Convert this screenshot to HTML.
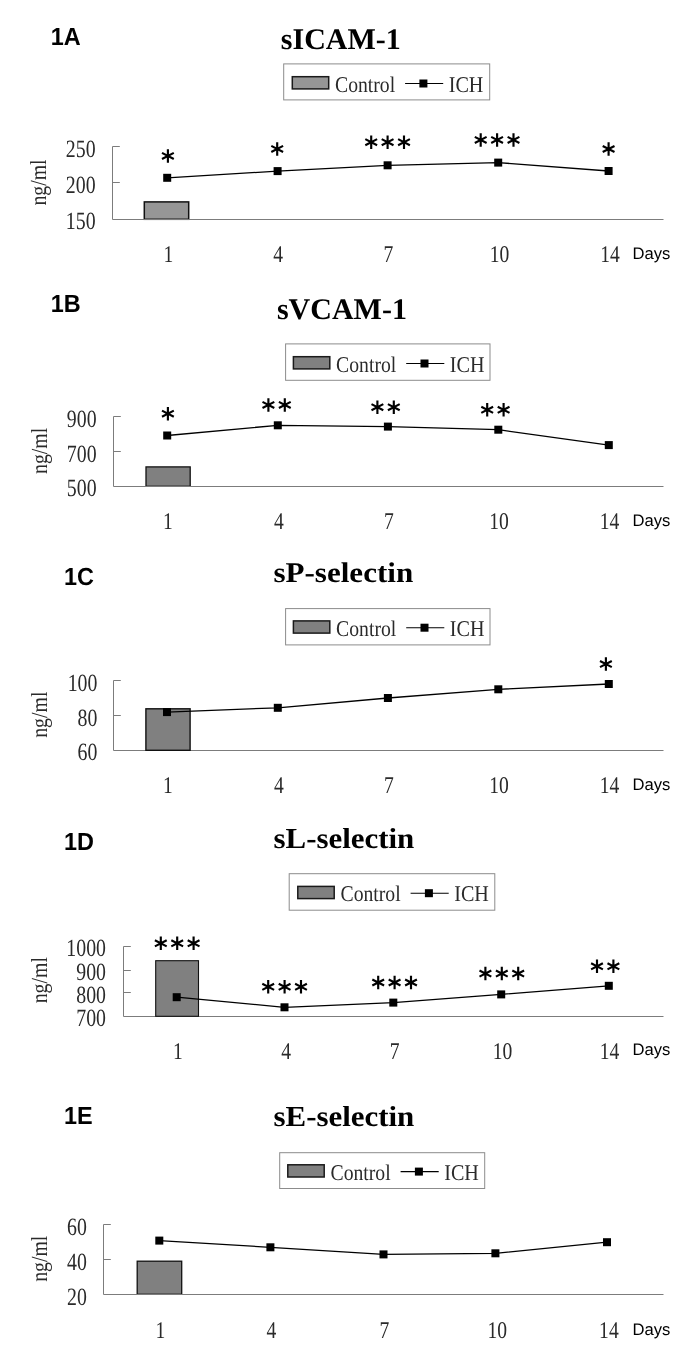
<!DOCTYPE html>
<html><head><meta charset="utf-8"><title>Figure 1</title>
<style>
html,body{margin:0;padding:0;background:#fff;}
body{width:685px;height:1370px;overflow:hidden;font-family:"Liberation Sans",sans-serif;}
svg{display:block;text-rendering:geometricPrecision;will-change:transform;}
</style></head><body>
<svg width="685" height="1370" viewBox="0 0 685 1370">
<defs>
<g id="st" stroke="#000" stroke-width="2.15" stroke-linecap="butt" fill="none">
<path d="M0 -6.75V6.75M-5.9 -3.05L5.9 3.05M-5.9 3.05L5.9 -3.05"/>
</g>
</defs>
<rect width="685" height="1370" fill="#fff"/>
<text transform="translate(50.7,44.9) scale(0.945,1)" font-family='"Liberation Sans", sans-serif' font-size="24.8" font-weight="bold" text-anchor="start" fill="#000" >1A</text>
<text transform="translate(340.8,49.3) scale(1.0,1)" font-family='"Liberation Serif", serif' font-size="30" font-weight="bold" text-anchor="middle" fill="#000" >sICAM-1</text>
<rect x="283.7" y="63.9" width="206.0" height="36" fill="#fff" stroke="#8c8c8c" stroke-width="1"/>
<rect x="292.3" y="76.7" width="36.4" height="12.2" fill="#969696" stroke="#1a1a1a" stroke-width="1.5"/>
<text transform="translate(335.0,91.5) scale(0.875,1)" font-family='"Liberation Serif", serif' font-size="22.5" font-weight="normal" text-anchor="start" fill="#2a2a2a" >Control</text>
<line x1="405.1" y1="83.5" x2="443.2" y2="83.5" stroke="#000" stroke-width="1.15"/>
<rect x="419.4" y="79.5" width="8" height="8" fill="#000"/>
<text transform="translate(448.7,91.5) scale(0.895,1)" font-family='"Liberation Serif", serif' font-size="22.5" font-weight="normal" text-anchor="start" fill="#2a2a2a" >ICH</text>
<rect x="144.3" y="201.9" width="44.4" height="17.4" fill="#969696" stroke="#111" stroke-width="1.5"/>
<path d="M112.5 146.5V219.5H663.5" fill="none" stroke="#7c7c7c" stroke-width="1"/>
<line x1="112.5" y1="146.5" x2="119.8" y2="146.5" stroke="#7c7c7c" stroke-width="1"/>
<line x1="112.5" y1="182.5" x2="119.8" y2="182.5" stroke="#7c7c7c" stroke-width="1"/>
<text transform="translate(95.6,156.8) scale(0.8,1)" font-family='"Liberation Serif", serif' font-size="24.8" font-weight="normal" text-anchor="end" fill="#2a2a2a" >250</text>
<text transform="translate(95.6,193.0) scale(0.8,1)" font-family='"Liberation Serif", serif' font-size="24.8" font-weight="normal" text-anchor="end" fill="#2a2a2a" >200</text>
<text transform="translate(95.6,229.2) scale(0.8,1)" font-family='"Liberation Serif", serif' font-size="24.8" font-weight="normal" text-anchor="end" fill="#2a2a2a" >150</text>
<text transform="translate(46.0,182.5) rotate(-90) scale(0.86,1)" font-family='"Liberation Serif", serif' font-size="23" text-anchor="middle" fill="#2a2a2a">ng/ml</text>
<polyline points="167.2,177.8 277.6,171.1 387.6,165.3 498.2,162.6 608.6,171.0" fill="none" stroke="#000" stroke-width="1.3"/>
<rect x="163.2" y="173.8" width="8" height="8" fill="#000"/>
<rect x="273.6" y="167.1" width="8" height="8" fill="#000"/>
<rect x="383.6" y="161.3" width="8" height="8" fill="#000"/>
<rect x="494.2" y="158.6" width="8" height="8" fill="#000"/>
<rect x="604.6" y="167.0" width="8" height="8" fill="#000"/>
<use href="#st" x="167.9" y="155.9"/>
<use href="#st" x="277.2" y="148.9"/>
<use href="#st" x="371.2" y="142.2"/><use href="#st" x="387.6" y="142.2"/><use href="#st" x="404.0" y="142.2"/>
<use href="#st" x="480.7" y="139.9"/><use href="#st" x="497.1" y="139.9"/><use href="#st" x="513.5" y="139.9"/>
<use href="#st" x="608.6" y="149.0"/>
<text transform="translate(168.5,262.0) scale(0.815,1)" font-family='"Liberation Serif", serif' font-size="24.0" font-weight="normal" text-anchor="middle" fill="#2a2a2a" >1</text>
<text transform="translate(278.2,262.0) scale(0.815,1)" font-family='"Liberation Serif", serif' font-size="24.0" font-weight="normal" text-anchor="middle" fill="#2a2a2a" >4</text>
<text transform="translate(388.3,262.0) scale(0.815,1)" font-family='"Liberation Serif", serif' font-size="24.0" font-weight="normal" text-anchor="middle" fill="#2a2a2a" >7</text>
<text transform="translate(499.5,262.0) scale(0.815,1)" font-family='"Liberation Serif", serif' font-size="24.0" font-weight="normal" text-anchor="middle" fill="#2a2a2a" >10</text>
<text transform="translate(610.0,262.0) scale(0.815,1)" font-family='"Liberation Serif", serif' font-size="24.0" font-weight="normal" text-anchor="middle" fill="#2a2a2a" >14</text>
<text transform="translate(632.6,258.7) scale(1.0,1)" font-family='"Liberation Sans", sans-serif' font-size="16.6" font-weight="normal" text-anchor="start" fill="#000" >Days</text>
<text transform="translate(50.7,311.9) scale(0.945,1)" font-family='"Liberation Sans", sans-serif' font-size="24.8" font-weight="bold" text-anchor="start" fill="#000" >1B</text>
<text transform="translate(341.9,318.5) scale(1.0,1)" font-family='"Liberation Serif", serif' font-size="30" font-weight="bold" text-anchor="middle" fill="#000" >sVCAM-1</text>
<rect x="285.6" y="343.9" width="204.4" height="36.4" fill="#fff" stroke="#8c8c8c" stroke-width="1"/>
<rect x="293.4" y="356.7" width="36.4" height="12.2" fill="#808080" stroke="#1a1a1a" stroke-width="1.5"/>
<text transform="translate(336.1,371.5) scale(0.875,1)" font-family='"Liberation Serif", serif' font-size="22.5" font-weight="normal" text-anchor="start" fill="#2a2a2a" >Control</text>
<line x1="406.2" y1="363.5" x2="444.3" y2="363.5" stroke="#000" stroke-width="1.15"/>
<rect x="420.5" y="359.5" width="8" height="8" fill="#000"/>
<text transform="translate(449.8,371.5) scale(0.895,1)" font-family='"Liberation Serif", serif' font-size="22.5" font-weight="normal" text-anchor="start" fill="#2a2a2a" >ICH</text>
<rect x="146.0" y="466.9" width="44.2" height="19.4" fill="#808080" stroke="#111" stroke-width="1.3"/>
<path d="M113.5 416.5V486.5H663.5" fill="none" stroke="#7c7c7c" stroke-width="1"/>
<line x1="113.5" y1="416.5" x2="120.8" y2="416.5" stroke="#7c7c7c" stroke-width="1"/>
<line x1="113.5" y1="451.5" x2="120.8" y2="451.5" stroke="#7c7c7c" stroke-width="1"/>
<text transform="translate(96.6,427.1) scale(0.8,1)" font-family='"Liberation Serif", serif' font-size="24.8" font-weight="normal" text-anchor="end" fill="#2a2a2a" >900</text>
<text transform="translate(96.6,461.5) scale(0.8,1)" font-family='"Liberation Serif", serif' font-size="24.8" font-weight="normal" text-anchor="end" fill="#2a2a2a" >700</text>
<text transform="translate(96.6,496.0) scale(0.8,1)" font-family='"Liberation Serif", serif' font-size="24.8" font-weight="normal" text-anchor="end" fill="#2a2a2a" >500</text>
<text transform="translate(47.2,450.9) rotate(-90) scale(0.86,1)" font-family='"Liberation Serif", serif' font-size="23" text-anchor="middle" fill="#2a2a2a">ng/ml</text>
<polyline points="167.2,435.5 277.8,425.3 387.9,426.6 498.3,429.7 608.8,445.1" fill="none" stroke="#000" stroke-width="1.3"/>
<rect x="163.2" y="431.5" width="8" height="8" fill="#000"/>
<rect x="273.8" y="421.3" width="8" height="8" fill="#000"/>
<rect x="383.9" y="422.6" width="8" height="8" fill="#000"/>
<rect x="494.3" y="425.7" width="8" height="8" fill="#000"/>
<rect x="604.8" y="441.1" width="8" height="8" fill="#000"/>
<use href="#st" x="167.9" y="413.7"/>
<use href="#st" x="268.4" y="404.9"/><use href="#st" x="284.8" y="404.9"/>
<use href="#st" x="377.4" y="407.2"/><use href="#st" x="393.8" y="407.2"/>
<use href="#st" x="487.2" y="409.8"/><use href="#st" x="503.6" y="409.8"/>
<text transform="translate(168.0,529.4) scale(0.815,1)" font-family='"Liberation Serif", serif' font-size="24.0" font-weight="normal" text-anchor="middle" fill="#2a2a2a" >1</text>
<text transform="translate(278.8,529.4) scale(0.815,1)" font-family='"Liberation Serif", serif' font-size="24.0" font-weight="normal" text-anchor="middle" fill="#2a2a2a" >4</text>
<text transform="translate(388.9,529.4) scale(0.815,1)" font-family='"Liberation Serif", serif' font-size="24.0" font-weight="normal" text-anchor="middle" fill="#2a2a2a" >7</text>
<text transform="translate(499.0,529.4) scale(0.815,1)" font-family='"Liberation Serif", serif' font-size="24.0" font-weight="normal" text-anchor="middle" fill="#2a2a2a" >10</text>
<text transform="translate(609.5,529.4) scale(0.815,1)" font-family='"Liberation Serif", serif' font-size="24.0" font-weight="normal" text-anchor="middle" fill="#2a2a2a" >14</text>
<text transform="translate(632.6,526.3) scale(1.0,1)" font-family='"Liberation Sans", sans-serif' font-size="16.6" font-weight="normal" text-anchor="start" fill="#000" >Days</text>
<text transform="translate(64.0,585.2) scale(0.945,1)" font-family='"Liberation Sans", sans-serif' font-size="24.8" font-weight="bold" text-anchor="start" fill="#000" >1C</text>
<text transform="translate(343.3,582.0) scale(1.09,1)" font-family='"Liberation Serif", serif' font-size="28.5" font-weight="bold" text-anchor="middle" fill="#000" >sP-selectin</text>
<rect x="285.6" y="608.6" width="204.4" height="36.3" fill="#fff" stroke="#8c8c8c" stroke-width="1"/>
<rect x="293.4" y="620.9" width="36.4" height="12.2" fill="#808080" stroke="#1a1a1a" stroke-width="1.5"/>
<text transform="translate(336.1,635.7) scale(0.875,1)" font-family='"Liberation Serif", serif' font-size="22.5" font-weight="normal" text-anchor="start" fill="#2a2a2a" >Control</text>
<line x1="406.2" y1="627.7" x2="444.3" y2="627.7" stroke="#000" stroke-width="1.15"/>
<rect x="420.5" y="623.7" width="8" height="8" fill="#000"/>
<text transform="translate(449.8,635.7) scale(0.895,1)" font-family='"Liberation Serif", serif' font-size="22.5" font-weight="normal" text-anchor="start" fill="#2a2a2a" >ICH</text>
<path d="M113.5 680.5V750.5H663.5" fill="none" stroke="#7c7c7c" stroke-width="1"/>
<line x1="113.5" y1="680.5" x2="120.8" y2="680.5" stroke="#7c7c7c" stroke-width="1"/>
<line x1="113.5" y1="715.5" x2="120.8" y2="715.5" stroke="#7c7c7c" stroke-width="1"/>
<rect x="145.9" y="708.8" width="44.2" height="41.5" fill="#808080" stroke="#111" stroke-width="1.4"/>
<text transform="translate(97.4,690.8) scale(0.8,1)" font-family='"Liberation Serif", serif' font-size="24.8" font-weight="normal" text-anchor="end" fill="#2a2a2a" >100</text>
<text transform="translate(97.4,725.6) scale(0.8,1)" font-family='"Liberation Serif", serif' font-size="24.8" font-weight="normal" text-anchor="end" fill="#2a2a2a" >80</text>
<text transform="translate(97.4,760.3) scale(0.8,1)" font-family='"Liberation Serif", serif' font-size="24.8" font-weight="normal" text-anchor="end" fill="#2a2a2a" >60</text>
<text transform="translate(47.2,714.7) rotate(-90) scale(0.86,1)" font-family='"Liberation Serif", serif' font-size="23" text-anchor="middle" fill="#2a2a2a">ng/ml</text>
<polyline points="167.0,712.1 277.8,707.8 387.9,698.0 498.3,689.3 608.8,684.0" fill="none" stroke="#000" stroke-width="1.3"/>
<rect x="163.0" y="708.1" width="8" height="8" fill="#000"/>
<rect x="273.8" y="703.8" width="8" height="8" fill="#000"/>
<rect x="383.9" y="694.0" width="8" height="8" fill="#000"/>
<rect x="494.3" y="685.3" width="8" height="8" fill="#000"/>
<rect x="604.8" y="680.0" width="8" height="8" fill="#000"/>
<use href="#st" x="605.9" y="664.1"/>
<text transform="translate(168.0,793.2) scale(0.815,1)" font-family='"Liberation Serif", serif' font-size="24.0" font-weight="normal" text-anchor="middle" fill="#2a2a2a" >1</text>
<text transform="translate(278.8,793.2) scale(0.815,1)" font-family='"Liberation Serif", serif' font-size="24.0" font-weight="normal" text-anchor="middle" fill="#2a2a2a" >4</text>
<text transform="translate(388.9,793.2) scale(0.815,1)" font-family='"Liberation Serif", serif' font-size="24.0" font-weight="normal" text-anchor="middle" fill="#2a2a2a" >7</text>
<text transform="translate(499.0,793.2) scale(0.815,1)" font-family='"Liberation Serif", serif' font-size="24.0" font-weight="normal" text-anchor="middle" fill="#2a2a2a" >10</text>
<text transform="translate(609.5,793.2) scale(0.815,1)" font-family='"Liberation Serif", serif' font-size="24.0" font-weight="normal" text-anchor="middle" fill="#2a2a2a" >14</text>
<text transform="translate(632.6,789.5) scale(1.0,1)" font-family='"Liberation Sans", sans-serif' font-size="16.6" font-weight="normal" text-anchor="start" fill="#000" >Days</text>
<text transform="translate(64.0,849.6) scale(0.945,1)" font-family='"Liberation Sans", sans-serif' font-size="24.8" font-weight="bold" text-anchor="start" fill="#000" >1D</text>
<text transform="translate(343.9,848.0) scale(1.066,1)" font-family='"Liberation Serif", serif' font-size="29" font-weight="bold" text-anchor="middle" fill="#000" >sL-selectin</text>
<rect x="289.2" y="873.7" width="205.6" height="36.5" fill="#fff" stroke="#8c8c8c" stroke-width="1"/>
<rect x="297.8" y="886.4" width="36.4" height="12.2" fill="#808080" stroke="#1a1a1a" stroke-width="1.5"/>
<text transform="translate(340.5,901.2) scale(0.875,1)" font-family='"Liberation Serif", serif' font-size="22.5" font-weight="normal" text-anchor="start" fill="#2a2a2a" >Control</text>
<line x1="410.6" y1="893.2" x2="448.7" y2="893.2" stroke="#000" stroke-width="1.15"/>
<rect x="424.9" y="889.2" width="8" height="8" fill="#000"/>
<text transform="translate(454.2,901.2) scale(0.895,1)" font-family='"Liberation Serif", serif' font-size="22.5" font-weight="normal" text-anchor="start" fill="#2a2a2a" >ICH</text>
<path d="M123.5 946.5V1016.5H663.5" fill="none" stroke="#7c7c7c" stroke-width="1"/>
<line x1="123.5" y1="946.5" x2="130.8" y2="946.5" stroke="#7c7c7c" stroke-width="1"/>
<line x1="123.5" y1="970.5" x2="130.8" y2="970.5" stroke="#7c7c7c" stroke-width="1"/>
<line x1="123.5" y1="992.5" x2="130.8" y2="992.5" stroke="#7c7c7c" stroke-width="1"/>
<rect x="155.7" y="960.7" width="42.8" height="55.6" fill="#808080" stroke="#111" stroke-width="1.1"/>
<text transform="translate(106.0,956.1) scale(0.8,1)" font-family='"Liberation Serif", serif' font-size="24.8" font-weight="normal" text-anchor="end" fill="#2a2a2a" >1000</text>
<text transform="translate(106.0,979.5) scale(0.8,1)" font-family='"Liberation Serif", serif' font-size="24.8" font-weight="normal" text-anchor="end" fill="#2a2a2a" >900</text>
<text transform="translate(106.0,1002.8) scale(0.8,1)" font-family='"Liberation Serif", serif' font-size="24.8" font-weight="normal" text-anchor="end" fill="#2a2a2a" >800</text>
<text transform="translate(106.0,1026.2) scale(0.8,1)" font-family='"Liberation Serif", serif' font-size="24.8" font-weight="normal" text-anchor="end" fill="#2a2a2a" >700</text>
<text transform="translate(46.7,980.2) rotate(-90) scale(0.86,1)" font-family='"Liberation Serif", serif' font-size="23" text-anchor="middle" fill="#2a2a2a">ng/ml</text>
<polyline points="176.7,997.2 284.5,1007.3 393.3,1002.6 501.2,994.4 608.8,985.8" fill="none" stroke="#000" stroke-width="1.3"/>
<rect x="172.7" y="993.2" width="8" height="8" fill="#000"/>
<rect x="280.5" y="1003.3" width="8" height="8" fill="#000"/>
<rect x="389.3" y="998.6" width="8" height="8" fill="#000"/>
<rect x="497.2" y="990.4" width="8" height="8" fill="#000"/>
<rect x="604.8" y="981.8" width="8" height="8" fill="#000"/>
<use href="#st" x="160.8" y="943.3"/><use href="#st" x="177.2" y="943.3"/><use href="#st" x="193.6" y="943.3"/>
<use href="#st" x="268.2" y="986.8"/><use href="#st" x="284.6" y="986.8"/><use href="#st" x="301.0" y="986.8"/>
<use href="#st" x="378.2" y="982.5"/><use href="#st" x="394.6" y="982.5"/><use href="#st" x="411.0" y="982.5"/>
<use href="#st" x="485.4" y="973.6"/><use href="#st" x="501.8" y="973.6"/><use href="#st" x="518.2" y="973.6"/>
<use href="#st" x="597.0" y="966.3"/><use href="#st" x="613.4" y="966.3"/>
<text transform="translate(177.8,1059.0) scale(0.815,1)" font-family='"Liberation Serif", serif' font-size="24.0" font-weight="normal" text-anchor="middle" fill="#2a2a2a" >1</text>
<text transform="translate(286.2,1059.0) scale(0.815,1)" font-family='"Liberation Serif", serif' font-size="24.0" font-weight="normal" text-anchor="middle" fill="#2a2a2a" >4</text>
<text transform="translate(394.6,1059.0) scale(0.815,1)" font-family='"Liberation Serif", serif' font-size="24.0" font-weight="normal" text-anchor="middle" fill="#2a2a2a" >7</text>
<text transform="translate(502.6,1059.0) scale(0.815,1)" font-family='"Liberation Serif", serif' font-size="24.0" font-weight="normal" text-anchor="middle" fill="#2a2a2a" >10</text>
<text transform="translate(609.5,1059.0) scale(0.815,1)" font-family='"Liberation Serif", serif' font-size="24.0" font-weight="normal" text-anchor="middle" fill="#2a2a2a" >14</text>
<text transform="translate(632.6,1055.2) scale(1.0,1)" font-family='"Liberation Sans", sans-serif' font-size="16.6" font-weight="normal" text-anchor="start" fill="#000" >Days</text>
<text transform="translate(64.0,1123.7) scale(0.945,1)" font-family='"Liberation Sans", sans-serif' font-size="24.8" font-weight="bold" text-anchor="start" fill="#000" >1E</text>
<text transform="translate(343.9,1126.4) scale(1.066,1)" font-family='"Liberation Serif", serif' font-size="29" font-weight="bold" text-anchor="middle" fill="#000" >sE-selectin</text>
<rect x="279.7" y="1152.7" width="205.0" height="35.8" fill="#fff" stroke="#8c8c8c" stroke-width="1"/>
<rect x="287.8" y="1164.8" width="36.4" height="12.2" fill="#808080" stroke="#1a1a1a" stroke-width="1.5"/>
<text transform="translate(330.5,1179.6) scale(0.875,1)" font-family='"Liberation Serif", serif' font-size="22.5" font-weight="normal" text-anchor="start" fill="#2a2a2a" >Control</text>
<line x1="400.6" y1="1171.6" x2="438.7" y2="1171.6" stroke="#000" stroke-width="1.15"/>
<rect x="414.9" y="1167.6" width="8" height="8" fill="#000"/>
<text transform="translate(444.2,1179.6) scale(0.895,1)" font-family='"Liberation Serif", serif' font-size="22.5" font-weight="normal" text-anchor="start" fill="#2a2a2a" >ICH</text>
<rect x="137.2" y="1261.2" width="44.5" height="33.1" fill="#808080" stroke="#111" stroke-width="1.3"/>
<path d="M103.5 1224.5V1294.5H663.5" fill="none" stroke="#7c7c7c" stroke-width="1"/>
<line x1="103.5" y1="1224.5" x2="110.8" y2="1224.5" stroke="#7c7c7c" stroke-width="1"/>
<line x1="103.5" y1="1259.5" x2="110.8" y2="1259.5" stroke="#7c7c7c" stroke-width="1"/>
<text transform="translate(86.9,1234.7) scale(0.8,1)" font-family='"Liberation Serif", serif' font-size="24.8" font-weight="normal" text-anchor="end" fill="#2a2a2a" >60</text>
<text transform="translate(86.9,1269.6) scale(0.8,1)" font-family='"Liberation Serif", serif' font-size="24.8" font-weight="normal" text-anchor="end" fill="#2a2a2a" >40</text>
<text transform="translate(86.9,1304.6) scale(0.8,1)" font-family='"Liberation Serif", serif' font-size="24.8" font-weight="normal" text-anchor="end" fill="#2a2a2a" >20</text>
<text transform="translate(47.2,1258.8) rotate(-90) scale(0.86,1)" font-family='"Liberation Serif", serif' font-size="23" text-anchor="middle" fill="#2a2a2a">ng/ml</text>
<polyline points="159.3,1240.6 270.4,1247.3 383.5,1254.4 495.4,1253.3 607.0,1242.2" fill="none" stroke="#000" stroke-width="1.3"/>
<rect x="155.3" y="1236.6" width="8" height="8" fill="#000"/>
<rect x="266.4" y="1243.3" width="8" height="8" fill="#000"/>
<rect x="379.5" y="1250.4" width="8" height="8" fill="#000"/>
<rect x="491.4" y="1249.3" width="8" height="8" fill="#000"/>
<rect x="603.0" y="1238.2" width="8" height="8" fill="#000"/>

<text transform="translate(160.4,1337.7) scale(0.815,1)" font-family='"Liberation Serif", serif' font-size="24.0" font-weight="normal" text-anchor="middle" fill="#2a2a2a" >1</text>
<text transform="translate(271.3,1337.7) scale(0.815,1)" font-family='"Liberation Serif", serif' font-size="24.0" font-weight="normal" text-anchor="middle" fill="#2a2a2a" >4</text>
<text transform="translate(384.5,1337.7) scale(0.815,1)" font-family='"Liberation Serif", serif' font-size="24.0" font-weight="normal" text-anchor="middle" fill="#2a2a2a" >7</text>
<text transform="translate(497.2,1337.7) scale(0.815,1)" font-family='"Liberation Serif", serif' font-size="24.0" font-weight="normal" text-anchor="middle" fill="#2a2a2a" >10</text>
<text transform="translate(608.9,1337.7) scale(0.815,1)" font-family='"Liberation Serif", serif' font-size="24.0" font-weight="normal" text-anchor="middle" fill="#2a2a2a" >14</text>
<text transform="translate(632.6,1335.2) scale(1.0,1)" font-family='"Liberation Sans", sans-serif' font-size="16.6" font-weight="normal" text-anchor="start" fill="#000" >Days</text>
</svg>
</body></html>
